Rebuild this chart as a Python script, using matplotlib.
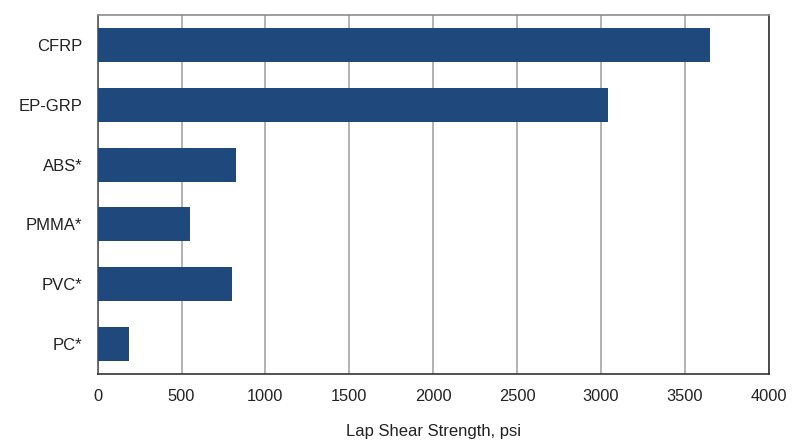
import matplotlib.pyplot as plt

plt.rcParams['font.family'] = ['Liberation Sans', 'DejaVu Sans']

materials = ["CFRP", "EP-GRP", "ABS*", "PMMA*", "PVC*", "PC*"]
strength = [3650, 3040, 827, 551, 801, 188]
xticks = [0, 500, 1000, 1500, 2000, 2500, 3000, 3500, 4000]

fig = plt.figure(figsize=(8, 4.42), dpi=100)
ax = fig.add_axes([0.122, 0.154, 0.839, 0.812])

ypos = list(range(len(materials)))[::-1]
ax.barh(ypos, strength, height=0.57, color="#1F497D", zorder=3)

ax.set_xlim(0, 4000)
ax.set_ylim(-0.5, len(materials) - 0.5)
ax.set_xticks(xticks)
ax.set_xticklabels([str(t) for t in xticks], fontsize=11.8, color="#222222")
ax.set_yticks(ypos)
ax.set_yticklabels(materials, fontsize=12, color="#222222")
ax.tick_params(axis="both", length=0)
ax.tick_params(axis="x", pad=10.5)
ax.tick_params(axis="y", pad=11)

ax.grid(axis="x", color="#a6a6a6", linewidth=1.2, zorder=0)
ax.set_xlabel("Lap Shear Strength, psi", fontsize=12, color="#222222", labelpad=15)

ax.spines["top"].set_color("#8c8c8c")
ax.spines["left"].set_color("#555555")
ax.spines["bottom"].set_color("#333333")
ax.spines["right"].set_color("#333333")
for s in ax.spines.values():
    s.set_linewidth(1.2)

fig.savefig("out.png", dpi=100)
